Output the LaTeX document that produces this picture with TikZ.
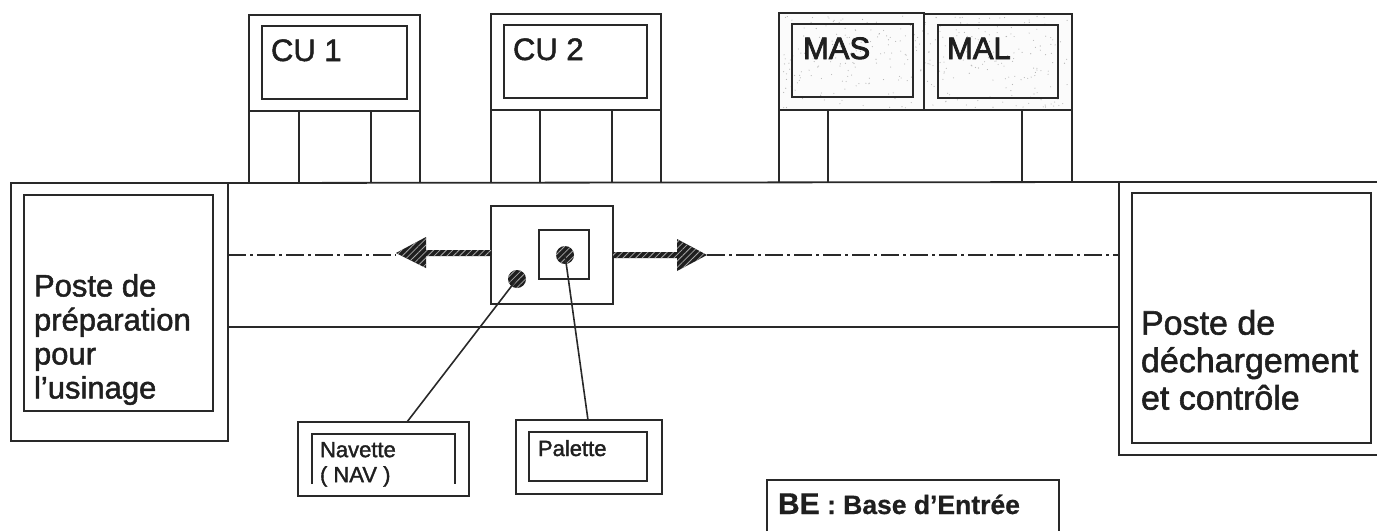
\documentclass[tikz,border=0pt]{standalone}
\usepackage{fontspec}
\setmainfont[FakeBold=1.6,BoldFeatures={FakeBold=0.6}]{Liberation Sans}
\newfontfamily\heavyfont[FakeBold=2.6]{Liberation Sans}
\usetikzlibrary{patterns.meta}
\definecolor{ink}{gray}{0.16}
\newcommand{\boxat}[6][]{\node[framebox,#1,minimum width={(#5-#3)*1pt},minimum height={(#6-#4)*1pt},anchor=north west] (#2) at (#3,#4) {};}
\tikzset{
  framebox/.style={draw=ink,line width=1.8pt,inner sep=0pt,outer sep=0pt},
  rule/.style={draw=ink,line width=1.8pt},
  thin rule/.style={draw=ink,line width=1.4pt},
  axis rule/.style={draw=ink,line width=1.3pt,dash pattern=on 18pt off 4pt on 3pt off 4pt},
  leader/.style={draw=ink,line width=1.6pt},
  hatched/.style={preaction={fill=black!88},pattern={Lines[angle=45,distance=4.5pt,line width=0.8pt]},pattern color=white!65!black},
  dot/.style={circle,hatched,minimum size=18pt,inner sep=0pt,outer sep=0pt},
  big/.style={font=\fontsize{31}{34}\selectfont,text=black!88,inner sep=0pt,outer sep=0pt,anchor=base west},
  small/.style={font=\fontsize{22}{25}\selectfont,text=black!88,inner sep=0pt,outer sep=0pt,anchor=base west},
}
\begin{document}
\begin{tikzpicture}[x=1pt,y=-1pt]
\useasboundingbox (0,0) rectangle (1377,531);
% speckled background of MAS / MAL
\fill[black!1.5] (779,13) rectangle (1072,110);
\pgfmathsetseed{11}
\foreach \i in {1,...,340} {\fill[black!30] ({782+rnd*288},{16+rnd*92}) circle (0.55);}
% machines
\boxat{cuone}{249}{15}{420}{111}
\boxat{cuonei}{262}{26}{407}{99}
\boxat{cutwo}{491}{14}{661}{110}
\boxat{cutwoi}{504}{25}{647}{98}
\boxat{mas}{779}{13}{924}{110}
\boxat{masi}{792}{24}{913}{97}
\boxat{mal}{924}{14}{1072}{110}
\boxat{mali}{938}{25}{1058}{98}
% bases under machines
\draw[rule] (cuone.south west) -- (249,183) (299,111) -- (299,183) (371,111) -- (371,183) (cuone.south east) -- (420,183);
\draw[rule] (cutwo.south west) -- (491,183) (540,110) -- (540,183) (612,110) -- (612,183) (cutwo.south east) -- (661,183);
\draw[rule] (mas.south west) -- (779,182) (828,110) -- (828,182) (1022,110) -- (1022,182) (mal.south east) -- (1072,182);
% stations
\boxat{prep}{11}{183}{228}{441}
\boxat{prepi}{24}{195}{213}{411}
\coordinate (dechNW) at (1119,182);
\coordinate (dechSW) at (1119,455);
\coordinate (dechNE) at (1377,182);
\coordinate (dechSE) at (1377,455);
\draw[rule] (dechNE) -- (dechNW) -- (dechSW) -- (dechSE);
\boxat{dechi}{1132}{193}{1371}{443}
% rail
\draw[rule] (prep.north east) -- (dechNW);
\draw[axis rule] (228,255) -- (396,255) (707,255) -- (1119,255);
\draw[thin rule] (228,327) -- (1119,327);
% shuttle
\boxat{shuttle}{491}{206}{613}{304}
\boxat{pallet}{539}{230}{589}{279}
\fill[hatched] (491,250) -- (426,250) -- (426,237) -- (396,253) -- (426,268) -- (426,256) -- (491,256) -- cycle;
\fill[hatched] (613,252) -- (677,252) -- (677,239) -- (707,255) -- (677,271) -- (677,258) -- (613,258) -- cycle;
\node[dot] (navdot) at (517,279) {};
\node[dot] (paldot) at (565,255) {};
% legend boxes
\boxat{nav}{298}{422}{469}{496}
\coordinate (navNW) at (312,434);
\coordinate (navNE) at (455,434);
\draw[rule] (312,484) -- (navNW) -- (navNE) -- (455,484);
\boxat{pal}{516}{420}{662}{494}
\boxat{pali}{529}{432}{647}{481}
\coordinate (navin) at (407,422);
\coordinate (palin) at (588,420);
\draw[leader] (navdot.center) -- (navin);
\draw[leader] (paldot.center) -- (palin);
% BE box
\coordinate (beSW) at (767,531);
\coordinate (beNW) at (767,480);
\coordinate (beNE) at (1059,480);
\coordinate (beSE) at (1059,531);
\draw[thin rule] (beSW) -- (beNW) -- (beNE) -- (beSE);
% texts
\node[big] (tcuone) at (271,61) {CU 1};
\node[big] (tcutwo) at (513,60) {CU 2};
\node[big,font=\fontsize{31}{34}\heavyfont] (tmas) at (803,59) {MAS};
\node[big,font=\fontsize{31}{34}\heavyfont] (tmal) at (947,59) {MAL};
\node[big,align=left,anchor=north west] (tprep) at (34,274) {Poste de\\préparation\\pour\\l’usinage};
\node[big,font=\fontsize{34}{37.5}\selectfont,align=left,anchor=north west] (tdech) at (1141,310) {Poste de\\déchargement\\et contrôle};
\node[small,align=left,anchor=north west] (tnav) at (320,442) {Navette\\( NAV )};
\node[small] (tpal) at (538,456) {Palette};
\node[small,font=\fontsize{26.5}{30}\selectfont\bfseries] (tbe) at (778,514) {{\fontsize{30}{30}\selectfont BE} : Base d’Entrée};
\end{tikzpicture}
\end{document}
